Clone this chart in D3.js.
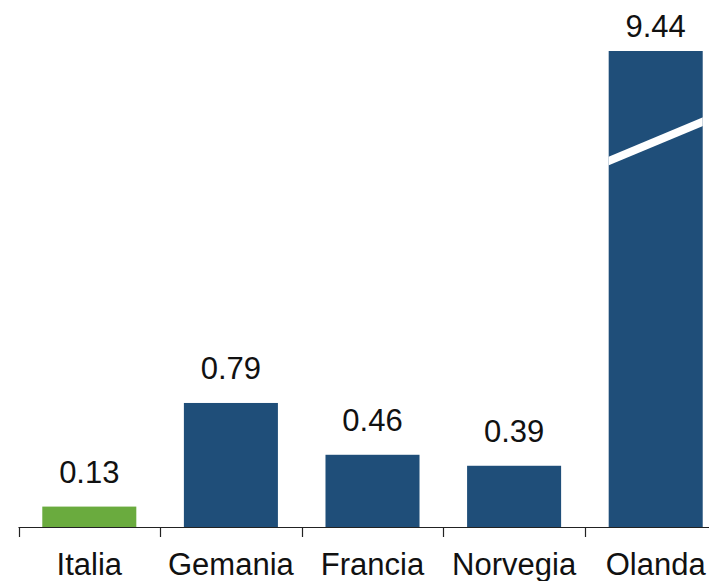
<!DOCTYPE html>
<html>
<head>
<meta charset="utf-8">
<script src="https://cdn.jsdelivr.net/npm/d3@7/dist/d3.min.js"></script>
<style>
  html, body { margin: 0; padding: 0; background: #ffffff; }
  svg { display: block; }
  text { font-family: "Liberation Sans", Arial, sans-serif; fill: #111; }
</style>
</head>
<body>
<svg id="chart" width="709" height="581"></svg>
<script>
const categories = ["Italia", "Gemania", "Francia", "Norvegia", "Olanda"];
const values = [0.13, 0.79, 0.46, 0.39, 9.44];
const valueLabels = ["0.13", "0.79", "0.46", "0.39", "9.44"];
const barColors = ["#6aab3e", "#1f4e79", "#1f4e79", "#1f4e79", "#1f4e79"];
const brokenCategory = "Olanda";
const breakValue = 7.05;

const W = 709, H = 581;
const svg = d3.select("#chart");

const x = d3.scaleBand()
  .domain(categories)
  .range([18.5, 726.5])
  .paddingInner(0.336)
  .paddingOuter(0.168);

// broken (piecewise) value axis: linear below 1, compressed above
const y = d3.scaleLinear()
  .domain([0, 1, 9.44])
  .range([527, 370, 51]);

const data = categories.map((c, i) => ({ c, v: values[i], label: valueLabels[i], color: barColors[i] }));

// bars
svg.append("g").selectAll("rect")
  .data(data)
  .join("rect")
  .attr("x", d => x(d.c))
  .attr("y", d => y(d.v))
  .attr("width", x.bandwidth())
  .attr("height", d => y(0) - y(d.v))
  .attr("fill", d => d.color);

// axis break mark
const bx0 = x(brokenCategory), bx1 = x(brokenCategory) + x.bandwidth();
const by = y(breakValue);
svg.append("clipPath").attr("id", "brkclip")
  .append("rect").attr("x", bx0).attr("y", 0).attr("width", x.bandwidth()).attr("height", H);
svg.append("line")
  .attr("clip-path", "url(#brkclip)")
  .attr("x1", bx0 - 2).attr("y1", by + 20.5)
  .attr("x2", bx1 + 2).attr("y2", by - 20.5)
  .attr("stroke", "#ffffff")
  .attr("stroke-width", 8);

// value labels
svg.append("g").selectAll("text")
  .data(data)
  .join("text")
  .attr("x", d => x(d.c) + x.bandwidth() / 2)
  .attr("y", d => Math.max(y(d.v) - 24, 37))
  .attr("text-anchor", "middle")
  .attr("font-size", "31px")
  .text(d => d.label);

// category axis
const axisY = y(0);
const step = x.step();
const start = x.range()[0];
const g = svg.append("g");
g.append("line")
  .attr("x1", start).attr("x2", W)
  .attr("y1", axisY + 0.5).attr("y2", axisY + 0.5)
  .attr("stroke", "#222").attr("stroke-width", 1.2);
g.selectAll("line.tick")
  .data(d3.range(categories.length + 1))
  .join("line")
  .attr("class", "tick")
  .attr("x1", i => Math.round(start + i * step) + 0.5)
  .attr("x2", i => Math.round(start + i * step) + 0.5)
  .attr("y1", axisY)
  .attr("y2", axisY + 10)
  .attr("stroke", "#222").attr("stroke-width", 1.2);
g.selectAll("text")
  .data(categories)
  .join("text")
  .attr("x", c => x(c) + x.bandwidth() / 2)
  .attr("y", 575)
  .attr("text-anchor", "middle")
  .attr("font-size", "31px")
  .text(c => c);
</script>
</body>
</html>
